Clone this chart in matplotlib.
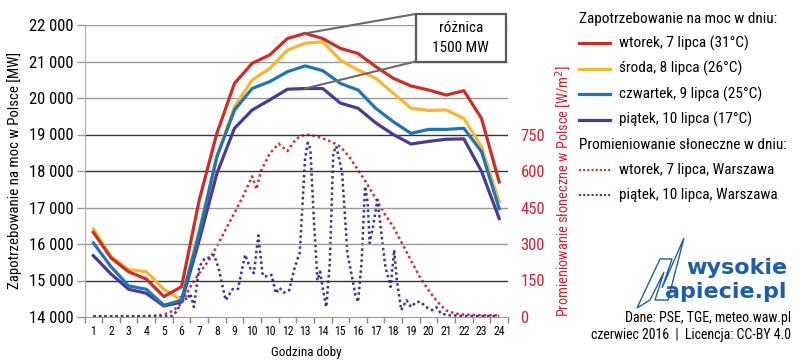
import matplotlib
matplotlib.use("Agg")
import matplotlib.pyplot as plt
from matplotlib import font_manager as fm
from matplotlib.lines import Line2D
from matplotlib.patches import Rectangle, Polygon

# ---------------- data ----------------
hours = list(range(1, 25))
hour_labels = ["1", "2", "3", "4", "5", "6", "7", "8", "9", "10", "10", "12", "13", "14",
               "15", "16", "17", "18", "19", "20", "21", "22", "23", "24"]

demand_wtorek = [16320, 15620, 15240, 15040, 14560, 14830, 17200, 19030, 20400, 20950, 21180, 21630,
                 21770, 21630, 21360, 21220, 20860, 20540, 20330, 20220, 20080, 20200, 19440, 17700]
demand_sroda = [16410, 15660, 15300, 15240, 14760, 14460, 16380, 18390, 19760, 20490, 20810, 21310,
                21500, 21540, 21040, 20770, 20540, 20130, 19720, 19660, 19670, 19440, 18660, 17150]
demand_czwartek = [16030, 15380, 14850, 14760, 14320, 14460, 16290, 18390, 19670, 20260, 20450, 20720,
                   20880, 20750, 20400, 20220, 19720, 19350, 19030, 19140, 19140, 19170, 18530, 16970]
demand_piatek = [15680, 15180, 14760, 14650, 14300, 14410, 16100, 17930, 19170, 19670, 19950, 20240,
                 20260, 20260, 19860, 19720, 19320, 19000, 18740, 18810, 18870, 18880, 17990, 16700]

sun_wtorek_h = [1, 2, 3, 4, 4.5, 5, 5.5, 6, 6.5, 7, 7.5, 8, 8.5, 9, 9.5, 10, 10.25, 10.5, 11, 11.5,
                12, 12.5, 13, 13.5, 14, 14.5, 15, 15.5, 16, 16.5, 17, 17.5, 18, 18.5, 19, 19.5,
                20, 20.5, 21, 21.5, 22, 23, 24]
sun_wtorek_w = [3, 3, 3, 4, 6, 10, 25, 55, 124, 180, 228, 290, 360, 428, 498, 578, 525, 600, 672, 712,
                682, 733, 750, 745, 734, 720, 700, 659, 604, 549, 487, 425, 370, 302, 233, 165,
                110, 62, 27, 14, 10, 7, 7]

sun_piatek_h = [1, 2, 3, 4, 5, 5.5, 5.8, 6.0, 6.3, 6.5, 6.7, 7.0, 7.3, 7.6, 7.85, 8.1, 8.5, 8.9, 9.2,
                9.6, 9.9, 10.1, 10.35, 10.6, 10.9, 11.1, 11.35, 11.55, 11.8, 12.1, 12.4, 12.7, 13.0,
                13.15, 13.3, 13.5, 13.7, 13.85, 14.0, 14.2, 14.4, 14.6, 14.76, 14.9, 15.1, 15.4,
                15.7, 15.85, 16.0, 16.2, 16.4, 16.55, 16.66, 16.85, 17.1, 17.3, 17.55, 17.85,
                18.05, 18.2, 18.45, 18.75, 19.0, 19.3, 19.55, 19.85, 20.2, 20.45, 20.7, 21.2,
                22, 23, 24]
sun_piatek_w = [3, 3, 3, 3, 2, 5, 30, 97, 70, 96, 41, 206, 240, 245, 255, 200, 69, 115, 115,
                256, 200, 180, 335, 170, 166, 173, 97, 120, 100, 110, 200, 265, 650,
                716, 690, 399, 151, 186, 120, 41, 220, 674, 702, 660, 592, 261,
                151, 90, 62, 220, 537, 468, 303, 371, 482, 358, 206, 124,
                275, 151, 28, 69, 41, 62, 62, 41, 28, 40, 14, 7,
                4, 4, 4]

left_ticks = [14000, 15000, 16000, 17000, 18000, 19000, 20000, 21000, 22000]
left_tick_labels = ["14 000", "15 000", "16 000", "17 000", "18 000", "19 000", "20 000", "21 000", "22 000"]
right_ticks = [0, 150, 300, 450, 600, 750]

legend_demand = ["wtorek, 7 lipca (31°C)", "środa, 8 lipca (26°C)",
                 "czwartek, 9 lipca (25°C)", "piątek, 10 lipca (17°C)"]
legend_sun = ["wtorek, 7 lipca, Warszawa", "piątek, 10 lipca, Warszawa"]

# ---------------- style ----------------
names = {f.name for f in fm.fontManager.ttflist}
FONT = "Liberation Sans"
for cand in ["Liberation Sans Narrow", "Roboto Condensed", "Open Sans Condensed", "Liberation Sans"]:
    if cand in names:
        FONT = cand
        break
plt.rcParams["font.family"] = [FONT, "DejaVu Sans"]

C_RED = "#cc2e27"
C_YEL = "#f7b731"
C_BLU = "#1f74b5"
C_PUR = "#4a3a93"
C_SUN_RED = "#cf2f2a"
C_SUN_BLU = "#34349a"
C_AX_RED = "#d2232a"
C_LOGO = "#1d5ea8"

W, H = 800, 362
fig = plt.figure(figsize=(8.0, 3.62), dpi=100)

def fx(px):
    return px / W

def fy(py):
    return 1 - py / H

ax_l, ax_r, ax_t, ax_b = 84.5, 508.0, 25.0, 317.0
ax = fig.add_axes([fx(ax_l), fy(ax_b), fx(ax_r - ax_l), (ax_b - ax_t) / H])
ax2 = ax.twinx()

# demand lines
lw = 2.3
ax.plot(hours, demand_piatek, color=C_PUR, lw=lw, zorder=4, solid_joinstyle="round")
ax.plot(hours, demand_czwartek, color=C_BLU, lw=lw, zorder=5, solid_joinstyle="round")
ax.plot(hours, demand_sroda, color=C_YEL, lw=lw, zorder=3, solid_joinstyle="round")
ax.plot(hours, demand_wtorek, color=C_RED, lw=lw, zorder=6, solid_joinstyle="round")

# radiation lines
ax2.plot(sun_wtorek_h, sun_wtorek_w, color=C_SUN_RED, lw=1.8, ls=(0, (1, 1.2)))
ax2.plot(sun_piatek_h, sun_piatek_w, color=C_SUN_BLU, lw=1.8, ls=(0, (1, 1.2)))

ax.set_zorder(ax2.get_zorder() + 1)
ax.patch.set_visible(False)

ax.set_xlim(0.5, 24.5)
ax.set_ylim(14000, 22000)
ax2.set_ylim(0, 1200)

ax.set_yticks(left_ticks)
ax.set_yticklabels(left_tick_labels, fontsize=12)
ax.set_xticks(hours)
ax.set_xticklabels(hour_labels, fontsize=8.5)
ax.set_xticks([h + 0.5 for h in [0] + hours[:-1]] + [24.5], minor=True)
ax.tick_params(axis="x", which="major", length=0, pad=6)
ax.tick_params(axis="x", which="minor", length=4, color="#888888", width=1)
ax.tick_params(axis="y", length=6, color="#999999", width=1, pad=2)

ax2.set_yticks(right_ticks)
ax2.set_yticklabels([str(v) for v in right_ticks], fontsize=12, color=C_AX_RED)
ax2.tick_params(axis="y", length=0, pad=9)

for sp in ["top", "right"]:
    ax.spines[sp].set_visible(False)
for sp in ["top", "right", "left", "bottom"]:
    ax2.spines[sp].set_visible(False)
ax.spines["left"].set_color("#aaaaaa")
ax.spines["bottom"].set_color("#999999")

ax.yaxis.grid(True, lw=1, color="#9a9a9a")
dark = {15000, 18000, 19000}
for val, gl in zip(left_ticks, ax.get_ygridlines()):
    if val in dark:
        gl.set_color("#333333")
    if val == 14000:
        gl.set_visible(False)

ax.set_xlabel("Godzina doby", fontsize=9.5, labelpad=4)
ax.xaxis.set_label_coords((306 - ax_l) / (ax_r - ax_l), -0.1)
ax.set_ylabel("Zapotrzebowanie na moc w Polsce [MW]", fontsize=10.6)
ax.yaxis.set_label_coords(-(ax_l - 22) / (ax_r - ax_l), (ax_b - 170) / (ax_b - ax_t))
ax2.set_ylabel("Promieniowanie słoneczne w Polsce [W/m$^2$]", fontsize=10.4, color=C_AX_RED)
ax2.yaxis.set_label_coords((553 - ax_l) / (ax_r - ax_l), (ax_b - 191) / (ax_b - ax_t))

# annotation box
bx0, bx1, by0, by1 = 415.5, 506.0, 14.0, 61.5
fig.patches.append(Rectangle((fx(bx0), fy(by1)), fx(bx1 - bx0), (by1 - by0) / H,
                             transform=fig.transFigure, facecolor="white",
                             edgecolor="#5a5a5a", lw=1.6, zorder=10))
fig.text(fx((bx0 + bx1) / 2), fy(28.5), "różnica", ha="center", va="center", fontsize=11, zorder=11)
fig.text(fx((bx0 + bx1) / 2), fy(48), "1500 MW", ha="center", va="center", fontsize=11, zorder=11)
ax.annotate("", xy=(13, demand_wtorek[12]), xycoords="data",
            xytext=(fx(bx0), fy(by0)), textcoords="figure fraction",
            arrowprops=dict(arrowstyle="-", color="#6a6a6a", lw=1.5, shrinkA=0, shrinkB=0),
            zorder=9, annotation_clip=False)
ax.annotate("", xy=(13, demand_piatek[12]), xycoords="data",
            xytext=(fx(bx0), fy(by1)), textcoords="figure fraction",
            arrowprops=dict(arrowstyle="-", color="#6a6a6a", lw=1.5, shrinkA=0, shrinkB=0),
            zorder=9, annotation_clip=False)

# legend
lx0, lx1, tx = 579, 610, 619
fig.text(fx(lx0), fy(19), "Zapotrzebowanie na moc w dniu:", fontsize=11, va="center", ha="left")
for i, (lab, col) in enumerate(zip(legend_demand, [C_RED, C_YEL, C_BLU, C_PUR])):
    y = 43 + i * 25.5
    fig.add_artist(Line2D([fx(lx0), fx(lx1)], [fy(y), fy(y)], color=col, lw=2.3,
                          transform=fig.transFigure))
    fig.text(fx(tx), fy(y), lab, fontsize=11, va="center", ha="left")
fig.text(fx(lx0), fy(145), "Promieniowanie słoneczne w dniu:", fontsize=11, va="center", ha="left")
for i, (lab, col) in enumerate(zip(legend_sun, [C_SUN_RED, C_SUN_BLU])):
    y = 170 + i * 25
    fig.add_artist(Line2D([fx(lx0), fx(lx1)], [fy(y), fy(y)], color=col, lw=1.5,
                          ls=(0, (1, 1)), transform=fig.transFigure))
    fig.text(fx(tx), fy(y), lab, fontsize=11, va="center", ha="left")

# logo
bolt = [(637, 308), (660, 259), (672, 259), (662, 288), (684, 238), (668, 300),
        (655, 300), (664, 272), (650, 300)]
fig.patches.append(Polygon([(fx(x), fy(y)) for x, y in bolt], closed=True, transform=fig.transFigure,
                           facecolor="none", edgecolor=C_LOGO, lw=1.0))
fig.text(fx(787), fy(268), "wysokie", fontsize=16, fontweight="bold", color=C_LOGO,
         ha="right", va="center", family="DejaVu Sans")
fig.text(fx(787), fy(292), "apiecie.pl", fontsize=16, fontweight="bold", color=C_LOGO,
         ha="right", va="center", family="DejaVu Sans")

fig.text(fx(791), fy(318), "Dane: PSE, TGE, meteo.waw.pl", fontsize=10, ha="right", va="center")
fig.text(fx(791), fy(335), "czerwiec 2016  |  Licencja: CC-BY 4.0", fontsize=10, ha="right", va="center")

fig.savefig("out.png", dpi=100)
